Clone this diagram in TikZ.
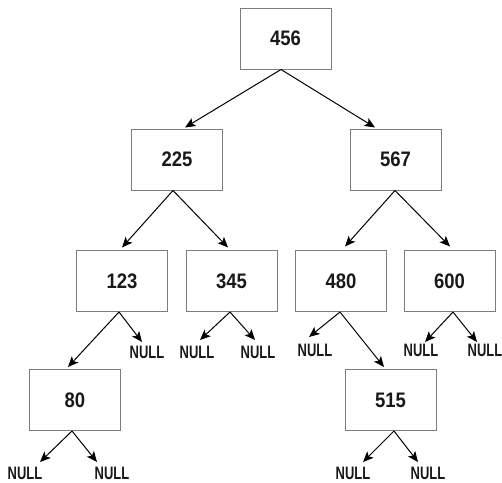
\documentclass[tikz,border=0pt]{standalone}
\usepackage{fontspec}
\setmainfont{Liberation Sans}[FakeStretch=0.88]
\newfontfamily\nullwordfont{Liberation Sans}[FakeStretch=0.72]
\usetikzlibrary{arrows.meta,calc}
\definecolor{boxline}{RGB}{125,125,125}
\begin{document}
\begin{tikzpicture}[x=1pt,y=-1pt,
  keybox/.style={draw=boxline,line width=1pt,rectangle,minimum width=91pt,minimum height=61pt,inner sep=0pt,text=black!90,font=\fontsize{21}{24}\selectfont\bfseries},
  nulltxt/.style={inner sep=0pt,text=black!90,font=\nullwordfont\fontsize{18}{20}\selectfont\bfseries},
  edge/.style={line width=1pt,-{Stealth[length=10.5pt,width=9pt,inset=2.5pt]}}]
\useasboundingbox (0,0) rectangle (502,482);
\node[keybox] (n456) at (285.5,38.5) {456};
\node[keybox] (n225) at (177,159.5) {225};
\node[keybox] (n567) at (395.5,159.5) {567};
\node[keybox] (n123) at (122,281) {123};
\node[keybox] (n345) at (231.5,281) {345};
\node[keybox] (n480) at (341,281) {480};
\node[keybox] (n600) at (449.5,281) {600};
\node[keybox] (n80) at (75,400) {80};
\node[keybox] (n515) at (390.5,400) {515};
\node[nulltxt] (u123r) at (147,352) {NULL};
\node[nulltxt] (u345l) at (197,352) {NULL};
\node[nulltxt] (u345r) at (258,352) {NULL};
\node[nulltxt] (u480l) at (315,350) {NULL};
\node[nulltxt] (u600l) at (421,350) {NULL};
\node[nulltxt] (u600r) at (485,350) {NULL};
\node[nulltxt] (u80l) at (25,473) {NULL};
\node[nulltxt] (u80r) at (112,473) {NULL};
\node[nulltxt] (u515l) at (353,473) {NULL};
\node[nulltxt] (u515r) at (428,473) {NULL};
% level 1
\draw[edge] ($(n456.south)+(-4.5,0)$) -- ($(n225.north)+(8,-1)$);
\draw[edge] ($(n456.south)+(-4.5,0)$) -- ($(n567.north)+(-20.5,-1)$);
% level 2
\draw[edge] ($(n225.south)+(-4,0)$) -- ($(n123.north)+(0,-2.5)$);
\draw[edge] ($(n225.south)+(-4,0)$) -- ($(n345.north)+(-3.5,-2.5)$);
\draw[edge] ($(n567.south)+(-0.5,0)$) -- ($(n480.north)+(4,-3.5)$);
\draw[edge] ($(n567.south)+(-0.5,0)$) -- ($(n600.north)+(0.5,-3.5)$);
% level 3
\draw[edge] ($(n123.south)+(-3,0)$) -- ($(n80.north)+(-7,-2)$);
\draw[edge] ($(n123.south)+(-3,0)$) -- ($(u123r.center)+(-5,-10)$);
\draw[edge] ($(n345.south)+(-1.5,0)$) -- ($(u345l.center)+(3,-12)$);
\draw[edge] ($(n345.south)+(-1.5,0)$) -- ($(u345r.center)+(-3,-12)$);
\draw[edge] ($(n480.south)+(-1,0)$) -- ($(u480l.center)+(-6,-13)$);
\draw[edge] ($(n480.south)+(-1,0)$) -- ($(n515.north)+(-6.5,-2)$);
\draw[edge] ($(n600.south)+(3.5,0)$) -- ($(u600l.center)+(4,-8)$);
\draw[edge] ($(n600.south)+(3.5,0)$) -- ($(u600r.center)+(-8,-8)$);
% level 4
\draw[edge] ($(n80.south)+(-3,0)$) -- ($(u80l.center)+(15,-11)$);
\draw[edge] ($(n80.south)+(-3,0)$) -- ($(u80r.center)+(-15,-11)$);
\draw[edge] ($(n515.south)+(3.5,0)$) -- ($(u515l.center)+(10,-11)$);
\draw[edge] ($(n515.south)+(3.5,0)$) -- ($(u515r.center)+(-10,-11)$);
\end{tikzpicture}
\end{document}
